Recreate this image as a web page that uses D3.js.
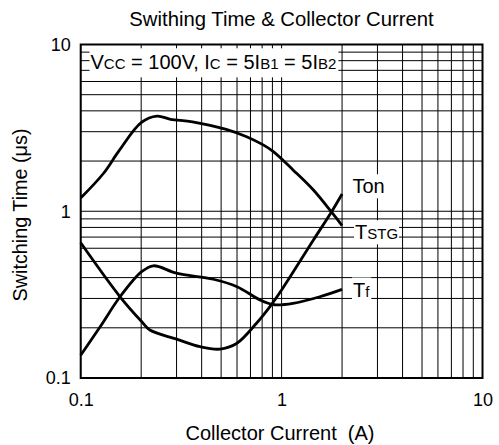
<!DOCTYPE html>
<html>
<head>
<meta charset="utf-8">
<script src="https://cdn.jsdelivr.net/npm/d3@7"></script>
<style>
  html, body { margin: 0; padding: 0; background: #fff; }
  svg { display: block; }
  text { font-family: "Liberation Sans", Arial, Helvetica, sans-serif; fill: #000; white-space: pre; }
</style>
</head>
<body>
<svg id="chart" width="499" height="445"></svg>
<script>
// ---- data ----
const title = "Swithing Time & Collector Current";
const xTitle = "Collector Current  (A)";
const yTitle = "Switching Time (\u03bcs)";
const xTicks = [0.1, 1, 10];
const yTicks = [0.1, 1, 10];
const xTickLabels = ["0.1", "1", "10"];
const yTickLabels = ["0.1", "1", "10"];

const tstgCurrent = [0.1, 0.13, 0.155, 0.2, 0.24, 0.28, 0.36, 0.53, 0.67, 0.81, 0.91, 1.14, 1.44, 1.77, 2.0];
const tstgTime    = [1.2, 1.69, 2.3, 3.4, 3.72, 3.56, 3.44, 3.1, 2.8, 2.5, 2.28, 1.77, 1.34, 0.99, 0.82];

const tonCurrent = [0.1, 0.157, 0.201, 0.221, 0.3, 0.393, 0.493, 0.597, 0.75, 0.875, 1.0, 1.44, 1.77, 2.0];
const tonTime    = [0.647, 0.307, 0.218, 0.194, 0.171, 0.154, 0.149, 0.161, 0.213, 0.268, 0.337, 0.672, 0.99, 1.27];

const tfCurrent = [0.1, 0.125, 0.157, 0.201, 0.23, 0.3, 0.457, 0.6, 0.78, 0.92, 1.14, 1.55, 2.0];
const tfTime    = [0.137, 0.203, 0.307, 0.434, 0.471, 0.425, 0.391, 0.353, 0.294, 0.275, 0.28, 0.307, 0.34];

// ---- layout ----
const svg = d3.select("#chart");
const pLeft = 80.7, pRight = 482.5, pTop = 44.5, pBottom = 378;

const x = d3.scaleLog().domain([0.1, 10]).range([pLeft, pRight]);
const y = d3.scaleLog().domain([0.1, 10]).range([pBottom, pTop]);

// grid values 1..9 per decade
const gridVals = [];
[0.1, 1].forEach(d => { for (let k = 1; k <= 9; k++) gridVals.push(+(d * k).toFixed(3)); });
gridVals.push(10);

const grid = svg.append("g");
grid.selectAll("line.v").data(gridVals).join("line").attr("class", "v")
  .attr("x1", d => x(d)).attr("x2", d => x(d))
  .attr("y1", pTop).attr("y2", pBottom)
  .attr("stroke", "#000").attr("stroke-width", 1);
grid.selectAll("line.h").data(gridVals).join("line").attr("class", "h")
  .attr("y1", d => y(d)).attr("y2", d => y(d))
  .attr("x1", pLeft).attr("x2", pRight)
  .attr("stroke", "#000").attr("stroke-width", 1);

// label with white box
function boxedLabel(g, xpos, ypos, parts, pad) {
  const grp = g.append("g");
  const rect = grp.append("rect").attr("fill", "#fff");
  const t = grp.append("text").attr("x", xpos).attr("y", ypos);
  parts.forEach(p => t.append("tspan").attr("font-size", p[1]).text(p[0]));
  const bb = t.node().getBBox();
  rect.attr("x", bb.x - pad[0]).attr("y", bb.y - pad[1])
      .attr("width", bb.width + pad[0] + pad[2]).attr("height", bb.height + pad[1] + pad[3]);
  return grp;
}

const labels = svg.append("g");
boxedLabel(labels, 90.5, 69.3, [
  ["V", 20], ["CC", 15], [" = 100V, I", 20], ["C", 15], [" = 5I", 20], ["B1", 15], [" = 5I", 20], ["B2", 15]
], [1, 3, 2, 4]);
boxedLabel(labels, 352.5, 193.3, [["Ton", 20]], [1, 1, 1, 1]);
boxedLabel(labels, 355, 239.3, [["T", 20], ["STG", 15]], [1, 1, 1, 1]);
boxedLabel(labels, 353, 296.5, [["T", 20], ["f", 15]], [1, 1, 1, 1]);

// border
svg.append("rect").attr("x", pLeft).attr("y", pTop)
  .attr("width", pRight - pLeft).attr("height", pBottom - pTop)
  .attr("fill", "none").attr("stroke", "#000").attr("stroke-width", 2);

// curves
const line = d3.line().x(d => x(d[0])).y(d => y(d[1])).curve(d3.curveCatmullRom.alpha(0.5));
const series = [
  d3.zip(tonCurrent, tonTime),
  d3.zip(tstgCurrent, tstgTime),
  d3.zip(tfCurrent, tfTime)
];
svg.append("g").selectAll("path").data(series).join("path")
  .attr("d", line).attr("fill", "none").attr("stroke", "#000")
  .attr("stroke-width", 2.8).attr("stroke-linejoin", "round").attr("stroke-linecap", "butt");

// axes
const xAxis = d3.axisBottom(x).tickValues(xTicks).tickSize(0).tickPadding(15)
  .tickFormat((d, i) => xTickLabels[i]);
const gx = svg.append("g").attr("transform", `translate(0,${pBottom})`).call(xAxis);
gx.select(".domain").remove();
gx.selectAll("text").attr("font-size", 18).attr("font-family", "Liberation Sans, Arial, sans-serif");

const yAxis = d3.axisLeft(y).tickValues(yTicks).tickSize(0).tickPadding(10)
  .tickFormat((d, i) => yTickLabels[i]);
const gy = svg.append("g").attr("transform", `translate(${pLeft},0)`).call(yAxis);
gy.select(".domain").remove();
gy.selectAll("text").attr("font-size", 18).attr("font-family", "Liberation Sans, Arial, sans-serif");

// titles
svg.append("text").attr("x", 281.5).attr("y", 26).attr("text-anchor", "middle")
  .attr("font-size", 20.3).text(title);
svg.append("text").attr("x", 280).attr("y", 439.5).attr("text-anchor", "middle")
  .attr("font-size", 20).text(xTitle);
svg.append("text").attr("transform", "translate(27,215) rotate(-90)").attr("text-anchor", "middle")
  .attr("font-size", 19.8).text(yTitle);
</script>
</body>
</html>
